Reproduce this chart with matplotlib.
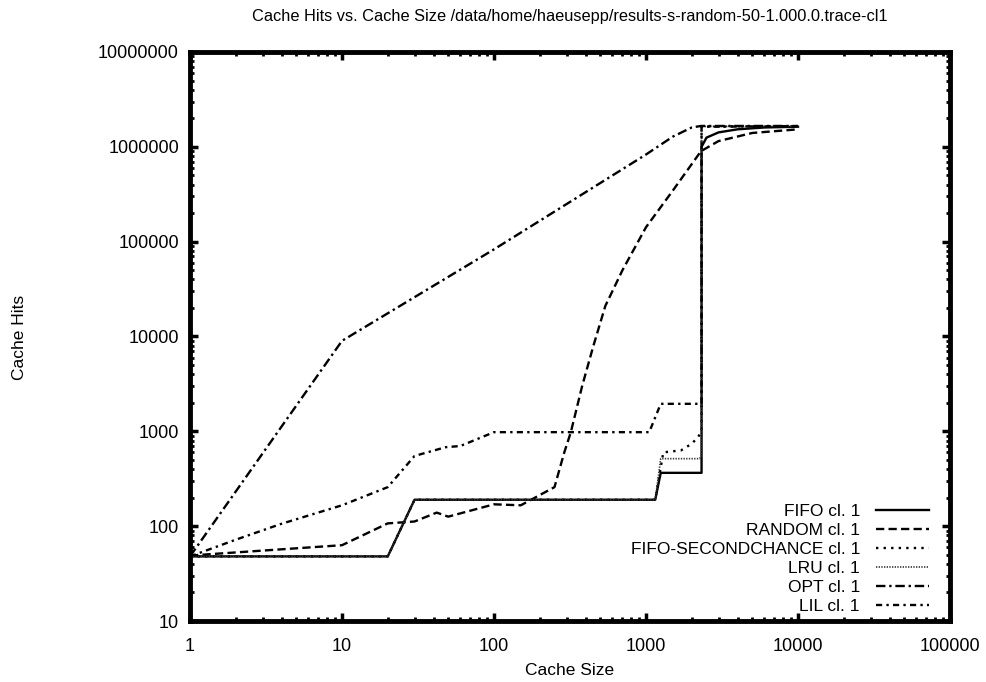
import numpy as np
import matplotlib
matplotlib.use("Agg")
import matplotlib.pyplot as plt
from matplotlib.ticker import FixedLocator, FuncFormatter, NullFormatter

plt.rcParams['font.family'] = ['Liberation Sans', 'DejaVu Sans']

# Cache sizes / hits
fifo_x = [1, 20, 30, 1150, 1250, 2320, 2320, 2500, 3000, 4000, 6000, 10000]
fifo_y = [48, 48, 190, 190, 365, 365, 1.0e6, 1.25e6, 1.42e6, 1.53e6, 1.6e6, 1.63e6]

random_x = [1, 10, 20, 30, 42, 50, 100, 150, 250, 290, 320, 380, 450, 540, 700,
            1000, 1500, 2300, 3000, 5000, 10000]
random_y = [49, 63, 107, 112, 139, 126, 170, 166, 258, 600, 975, 3000, 7900, 21000, 50000,
            142000, 345000, 900000, 1.15e6, 1.4e6, 1.53e6]

fifo2_x = [1, 20, 30, 1150, 1300, 1700, 2000, 2200, 2320, 2320, 10000]
fifo2_y = [48, 48, 190, 190, 600, 630, 740, 870, 1000, 1.64e6, 1.65e6]

lru_x = [1, 20, 30, 1150, 1250, 2250, 2320, 2320, 10000]
lru_y = [48, 48, 190, 190, 515, 515, 560, 1.64e6, 1.65e6]

opt_x = [1, 10, 100, 1000, 1500, 2000, 2300, 10000]
opt_y = [48, 9000, 83000, 830000, 1.28e6, 1.6e6, 1.66e6, 1.66e6]

lil_x = [1, 2, 4, 10, 20, 30, 48, 60, 100, 1050, 1250, 2320, 2320, 10000]
lil_y = [48, 72, 106, 166, 258, 550, 680, 700, 980, 980, 1950, 1950, 1.63e6, 1.65e6]

labels = ["FIFO cl. 1", "RANDOM cl. 1", "FIFO-SECONDCHANCE cl. 1",
          "LRU cl. 1", "OPT cl. 1", "LIL cl. 1"]

fig = plt.figure(figsize=(9.87, 6.82), dpi=100)
ax = fig.add_axes([190/987, 1 - 621/682, (950-190)/987, (621-52)/682])

lw = 1.7
ax.plot(fifo_x, fifo_y, color='black', lw=lw, label=labels[0])
ax.plot(random_x, random_y, color='black', lw=lw, linestyle=(0, (3.5, 1.8)), label=labels[1])
ax.plot(fifo2_x, fifo2_y, color='black', lw=lw, linestyle=(0, (1.0, 2.2)), label=labels[2])
ax.plot(lru_x, lru_y, color='#333333', lw=1.2, linestyle=(0, (0.8, 0.8)), label=labels[3])
ax.plot(opt_x, opt_y, color='black', lw=lw, linestyle=(0, (4.0, 1.6, 1.0, 1.6)), label=labels[4])
ax.plot(lil_x, lil_y, color='black', lw=lw, linestyle=(0, (2.6, 1.8, 1.0, 1.8)), label=labels[5])

ax.set_xscale('log')
ax.set_yscale('log')
ax.set_xlim(1, 100000)
ax.set_ylim(10, 10000000)

xmaj = [1, 10, 100, 1000, 10000, 100000]
ymaj = [10, 100, 1000, 10000, 100000, 1000000, 10000000]
ax.xaxis.set_major_locator(FixedLocator(xmaj))
ax.yaxis.set_major_locator(FixedLocator(ymaj))
ax.xaxis.set_minor_locator(FixedLocator([m * 10**e for e in range(0, 5) for m in range(2, 10)]))
ax.yaxis.set_minor_locator(FixedLocator([m * 10**e for e in range(1, 7) for m in range(2, 10)]))
fmt = FuncFormatter(lambda v, p: "%d" % round(v))
ax.xaxis.set_major_formatter(fmt)
ax.yaxis.set_major_formatter(fmt)
ax.xaxis.set_minor_formatter(NullFormatter())
ax.yaxis.set_minor_formatter(NullFormatter())

for s in ax.spines.values():
    s.set_linewidth(3.5)
ax.tick_params(which='major', direction='in', length=6, width=2.5, labelsize=13,
               top=True, right=True, pad=8)
ax.tick_params(axis='x', which='major', pad=12)
ax.tick_params(which='minor', direction='in', length=3, width=2, top=True, right=True)

ax.set_title("Cache Hits vs. Cache Size /data/home/haeusepp/results-s-random-50-1.000.0.trace-cl1",
             fontsize=11.8, pad=22)
ax.set_xlabel("Cache Size", fontsize=12.5, labelpad=6)
fig.text(20/987, 1 - 337/682, "Cache Hits", rotation=90, fontsize=12.5, ha='center', va='center')

ax.legend(loc='lower right', bbox_to_anchor=(0.982, 0.0), frameon=False, markerfirst=False,
          fontsize=12.5, handlelength=3.1, handletextpad=0.9, labelspacing=0.22,
          borderaxespad=0.0, borderpad=0.4)

fig.savefig("out.png", dpi=100)
